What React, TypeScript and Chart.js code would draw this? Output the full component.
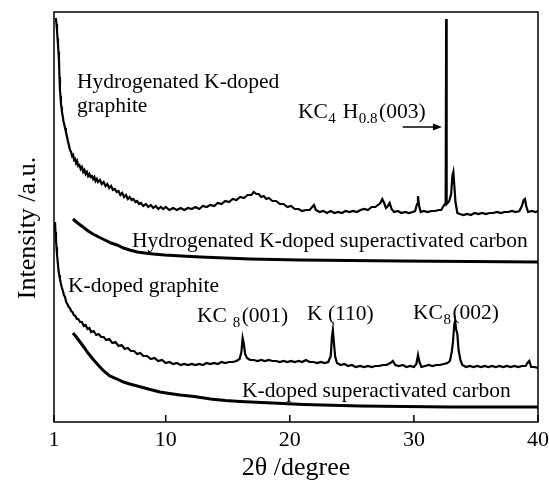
import React, { useEffect, useRef } from "react";
import { Chart, registerables } from "chart.js";
Chart.register(...registerables);

// x axis (2θ / degree) tick values
const xTickValues = [1, 10, 20, 30, 40];

// Hydrogenated K-doped graphite [2θ, intensity a.u.]
const hgPoints: [number, number][] = [
  [1.15,404],[1.2,398],[1.24,392],[1.28,384],[1.32,378],[1.36,370],[1.4,362],[1.44,345],[1.48,332],[1.52,326],
  [1.56,318],[1.6,315],[1.64,310],[1.7,306],[1.76,301],[1.82,298],[1.89,294],[1.96,290],[2.04,286],[2.12,281],
  [2.2,277],[2.29,272],[2.38,270],[2.46,266],[2.54,267],[2.62,262],[2.7,263],[2.78,259],[2.86,261],[2.95,256],
  [3.05,257],[3.15,253],[3.25,255],[3.35,250],[3.45,252],[3.55,248],[3.65,250],[3.75,246],[3.85,248],[3.95,245],
  [4.05,246],[4.15,243],[4.25,245],[4.35,241],[4.45,243],[4.55,240],[4.7,242],[4.85,238],[5.0,240],[5.15,236],
  [5.3,238],[5.45,234],[5.6,236],[5.75,232],[5.9,233],[6.05,230],[6.2,231],[6.35,227],[6.5,229],[6.65,225],
  [6.8,227],[6.95,223],[7.1,225],[7.25,222],[7.4,223],[7.55,220],[7.7,221],[7.85,218],[8.0,219],[8.2,216],
  [8.4,218],[8.6,215],[8.8,217],[9.0,214],[9.2,216],[9.4,213],[9.6,215],[9.8,213],[10.0,215],[10.3,212],
  [10.6,214],[10.9,212],[11.2,214],[11.5,212],[11.8,214],[12.1,213],[12.4,215],[12.7,213],[13.0,216],[13.3,215],
  [13.6,217],[13.9,216],[14.2,219],[14.5,218],[14.8,221],[15.1,220],[15.4,223],[15.7,222],[16.0,225],[16.3,224],
  [16.6,227],[16.9,227],[17.1,230],[17.3,228],[17.5,228],[17.7,225],[17.9,226],[18.1,223],[18.3,224],[18.6,221],
  [18.9,221],[19.2,218],[19.5,218],[19.8,215],[20.1,216],[20.4,213],[20.7,213],[21.0,211],[21.3,212],[21.6,212],
  [21.8,215],[21.95,217],[22.1,212],[22.4,210],[22.7,211],[23.0,209],[23.3,211],[23.6,209],[23.9,210],[24.2,209],
  [24.5,211],[24.8,210],[25.1,211],[25.4,210],[25.7,212],[26.0,213],[26.3,212],[26.6,215],[26.9,215],[27.1,217],
  [27.3,219],[27.45,223],[27.6,219],[27.75,214],[27.9,216],[28.05,219],[28.2,213],[28.4,210],[28.7,211],[29.0,209],
  [29.3,210],[29.6,209],[29.9,210],[30.1,211],[30.25,218],[30.33,226],[30.42,216],[30.55,210],[30.8,211],[31.1,210],
  [31.4,211],[31.7,211],[32.0,212],[32.2,212],[32.38,216],[32.56,219],[32.6,403],[32.64,218],[32.85,221],[33.0,228],
  [33.1,246],[33.18,250],[33.25,238],[33.35,220],[33.5,209],[33.7,208],[34.0,207],[34.3,208],[34.6,207],[34.9,209],
  [35.2,208],[35.5,209],[35.8,208],[36.1,209],[36.4,209],[36.7,210],[37.0,209],[37.3,210],[37.6,210],[37.9,211],
  [38.2,210],[38.5,211],[38.7,216],[38.85,222],[38.95,223],[39.05,216],[39.2,210],[39.5,211],[39.8,210],[40.0,211]
];

// Hydrogenated K-doped superactivated carbon
const hcPoints: [number, number][] = [
  [2.53,203],[2.9,199],[3.34,195],[3.75,191],[4.14,188],[4.6,185],[5.1,182],[5.6,179],[6.08,177],[6.6,174],
  [7.1,172],[7.7,170],[8.3,169],[9.0,168],[9.9,167],[11.3,166],[12.8,165],[14.8,164],[16.8,163],[20.8,162],
  [28.9,161],[34.5,160.5],[40,160]
];

// K-doped graphite
const kgPoints: [number, number][] = [
  [1.08,200],[1.12,190],[1.16,182],[1.2,175],[1.24,168],[1.3,160],[1.36,152],[1.42,147],[1.48,143],[1.56,138],
  [1.64,134],[1.72,131],[1.8,127],[1.89,125],[1.98,120],[2.08,118],[2.18,115],[2.28,114],[2.38,111],[2.48,110],
  [2.6,107],[2.72,106],[2.84,103],[2.96,103],[3.1,100],[3.25,100],[3.4,96],[3.55,97],[3.7,93],[3.85,94],
  [4.0,90],[4.2,91],[4.4,87],[4.6,88],[4.8,85],[5.0,85],[5.2,82],[5.45,83],[5.7,79],[5.95,80],
  [6.2,76],[6.45,77],[6.7,73],[6.95,74],[7.2,71],[7.45,71],[7.7,68],[7.95,69],[8.2,66],[8.5,66],
  [8.8,63],[9.1,64],[9.4,61],[9.7,62],[10.0,59],[10.3,60],[10.6,58],[10.9,59],[11.2,57],[11.5,58],
  [11.8,57],[12.1,58],[12.4,57],[12.7,58],[13.0,57],[13.3,59],[13.6,58],[13.9,59],[14.2,58],[14.5,60],
  [14.8,59],[15.1,60],[15.4,60],[15.7,61],[15.95,63],[16.1,70],[16.2,84],[16.3,78],[16.4,68],[16.55,64],
  [16.8,62],[17.1,62],[17.4,61],[17.7,62],[18.0,61],[18.3,62],[18.6,61],[18.9,61],[19.2,60],[19.5,61],
  [19.8,60],[20.1,61],[20.4,60],[20.7,61],[21.0,60],[21.3,62],[21.6,60],[21.9,60],[22.2,59],[22.5,60],
  [22.8,59],[23.1,60],[23.3,66],[23.4,86],[23.47,92],[23.55,80],[23.65,66],[23.8,59],[24.1,57],[24.4,58],
  [24.7,56],[25.0,57],[25.3,55],[25.66,56],[26.0,55],[26.3,56],[26.6,55],[26.9,56],[27.2,56],[27.5,57],
  [27.8,57],[28.1,59],[28.3,61],[28.5,57],[28.8,56],[29.1,57],[29.4,55],[29.7,56],[30.0,55],[30.2,58],
  [30.33,67],[30.45,60],[30.6,55],[30.9,56],[31.2,57],[31.5,56],[31.8,57],[32.1,57],[32.4,58],[32.7,59],
  [32.9,61],[33.05,70],[33.15,80],[33.25,97],[33.32,101],[33.4,93],[33.5,88],[33.6,72],[33.75,62],[33.9,57],
  [34.2,55],[34.5,56],[34.8,55],[35.1,56],[35.4,55],[35.7,56],[36.0,55],[36.3,56],[36.6,55],[36.9,56],
  [37.2,55],[37.5,56],[37.8,55],[38.1,56],[38.4,55],[38.7,56],[39.0,56],[39.15,59],[39.3,61],[39.45,55],
  [39.7,55],[40.0,54]
];

// K-doped superactivated carbon
const kcPoints: [number, number][] = [
  [2.53,89],[2.8,85],[3.1,80],[3.4,75],[3.74,69],[4.2,62],[4.7,55],[5.1,50],[5.5,46],[6.08,43],
  [6.6,40],[7.1,38],[7.7,36],[8.6,33],[9.54,30],[10.3,28.5],[11.15,27],[12.3,25.5],[13.6,23],[14.8,21.5],
  [16.0,20.5],[18.6,19],[21.1,17.5],[25.66,16],[32.9,15],[40,15]
];

type Seg = { t: string; sub?: boolean };
const annotations: { x: number; y: number; segs: Seg[] }[] = [
  { x: 2.85, y: 334, segs: [{ t: "Hydrogenated K-doped" }] },
  { x: 2.85, y: 310, segs: [{ t: "graphite" }] },
  { x: 20.66, y: 304, segs: [{ t: "KC" }, { t: "4", sub: true }, { t: " H" }, { t: "0.8", sub: true }, { t: "(003)" }] },
  { x: 7.29, y: 175, segs: [{ t: "Hydrogenated K-doped superactivated carbon" }] },
  { x: 2.13, y: 130, segs: [{ t: "K-doped graphite" }] },
  { x: 12.52, y: 100, segs: [{ t: "KC " }, { t: "8", sub: true }, { t: "(001)" }] },
  { x: 21.39, y: 102, segs: [{ t: "K (110)" }] },
  { x: 29.93, y: 103, segs: [{ t: "KC" }, { t: "8", sub: true }, { t: "(002)" }] },
  { x: 16.15, y: 25, segs: [{ t: "K-doped superactivated carbon" }] },
];
const arrowFrom = 29.1;
const arrowTo = 32.26;
const arrowLevel = 295;
const yTitle = "Intensity /a.u.";

const FONT = '"Liberation Serif", "Times New Roman", serif';

const decorPlugin = {
  id: "decor",
  afterDatasetsDraw(chart: any) {
    const { ctx, chartArea, scales } = chart;
    const xs = scales.x;
    const ys = scales.y;
    ctx.save();
    ctx.strokeStyle = "#000";
    ctx.fillStyle = "#000";
    // frame
    ctx.lineWidth = 1.5;
    ctx.strokeRect(chartArea.left, chartArea.top, chartArea.right - chartArea.left, chartArea.bottom - chartArea.top);
    // inward tick marks
    for (const v of xTickValues) {
      const px = xs.getPixelForValue(v);
      ctx.beginPath();
      ctx.moveTo(px, chartArea.bottom);
      ctx.lineTo(px, chartArea.bottom - 7);
      ctx.stroke();
    }
    // annotations
    ctx.textBaseline = "alphabetic";
    ctx.textAlign = "left";
    for (const a of annotations) {
      let px = xs.getPixelForValue(a.x);
      const py = ys.getPixelForValue(a.y);
      for (const s of a.segs) {
        ctx.font = s.sub ? `15px ${FONT}` : `21.5px ${FONT}`;
        ctx.fillText(s.t, px, s.sub ? py + 5 : py);
        px += ctx.measureText(s.t).width + (s.sub ? 1.5 : 0.5);
      }
    }
    // arrow
    const ax0 = xs.getPixelForValue(arrowFrom);
    const ax1 = xs.getPixelForValue(arrowTo);
    const ay = ys.getPixelForValue(arrowLevel);
    ctx.lineWidth = 1.6;
    ctx.beginPath();
    ctx.moveTo(ax0, ay);
    ctx.lineTo(ax1 - 6, ay);
    ctx.stroke();
    ctx.beginPath();
    ctx.moveTo(ax1, ay);
    ctx.lineTo(ax1 - 9, ay - 3.5);
    ctx.lineTo(ax1 - 9, ay + 3.5);
    ctx.closePath();
    ctx.fill();
    // y axis title
    ctx.translate(28, (chartArea.top + chartArea.bottom) / 2 + 11);
    ctx.rotate(-Math.PI / 2);
    ctx.font = `26px ${FONT}`;
    ctx.textAlign = "center";
    ctx.textBaseline = "middle";
    ctx.fillText(yTitle, 0, 0);
    ctx.restore();
  },
};

export default function App() {
  const ref = useRef<HTMLCanvasElement | null>(null);
  useEffect(() => {
    if (!ref.current) return;
    const mk = (pts: [number, number][], w: number) => ({
      data: pts.map(([x, y]) => ({ x, y })),
      borderColor: "#000",
      backgroundColor: "#000",
      borderWidth: w,
      pointRadius: 0,
      tension: 0,
      fill: false,
    });
    const chart = new Chart(ref.current, {
      type: "line",
      data: {
        datasets: [
          { label: "Hydrogenated K-doped graphite", ...mk(hgPoints, 2.2) },
          { label: "Hydrogenated K-doped superactivated carbon", ...mk(hcPoints, 3) },
          { label: "K-doped graphite", ...mk(kgPoints, 2.2) },
          { label: "K-doped superactivated carbon", ...mk(kcPoints, 3) },
        ],
      },
      options: {
        animation: false,
        responsive: false,
        layout: { padding: { top: 12, right: 11, left: 0, bottom: 0 } },
        plugins: { legend: { display: false }, tooltip: { enabled: false } },
        scales: {
          x: {
            type: "linear",
            min: 1,
            max: 40,
            grid: { display: false, drawTicks: false },
            border: { display: false },
            afterBuildTicks: (s: any) => {
              s.ticks = xTickValues.map((v) => ({ value: v }));
            },
            afterFit: (s: any) => {
              s.height = 59;
              s.paddingLeft = 0;
              s.paddingRight = 0;
            },
            ticks: {
              autoSkip: false,
              maxRotation: 0,
              padding: 5,
              color: "#000",
              font: { family: FONT, size: 22 },
              callback: (v: any) => String(v),
            },
            title: {
              display: true,
              text: "2θ /degree",
              color: "#000",
              font: { family: FONT, size: 26, lineHeight: 1 },
              padding: { top: 0, bottom: 0 },
            },
          },
          y: {
            min: 0,
            max: 410,
            grid: { display: false, drawTicks: false },
            border: { display: false },
            ticks: { display: false },
            afterFit: (s: any) => {
              s.width = 54;
            },
            title: { display: false },
          },
        },
      },
      plugins: [decorPlugin],
    } as any);
    return () => chart.destroy();
  }, []);
  return (
    <div style={{ position: "fixed", left: 0, top: 0, width: 549, height: 481, background: "#fff" }}>
      <canvas ref={ref} width={549} height={481} />
    </div>
  );
}
